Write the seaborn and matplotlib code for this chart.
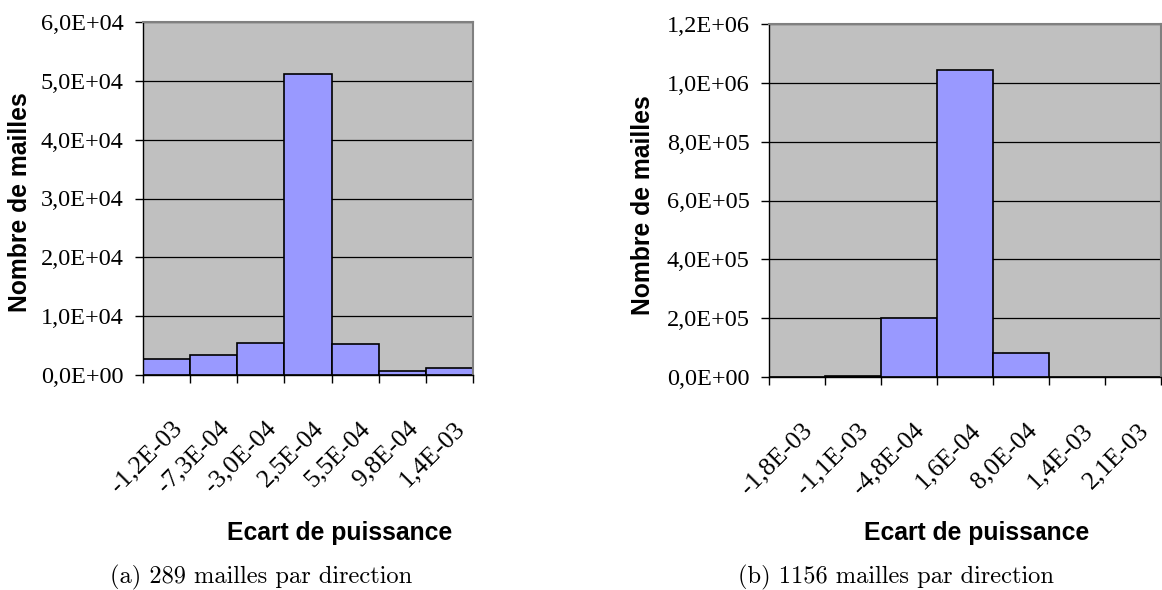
import matplotlib.pyplot as plt
import matplotlib.transforms as mtransforms
from matplotlib.ticker import FuncFormatter, MultipleLocator
import seaborn as sns

# (a) 289 mailles par direction
labels_a = ["-1,2E-03", "-7,3E-04", "-3,0E-04", "2,5E-04", "5,5E-04", "9,8E-04", "1,4E-03"]
counts_a = [2750, 3430, 5500, 51200, 5220, 670, 1240]

# (b) 1156 mailles par direction
labels_b = ["-1,8E-03", "-1,1E-03", "-4,8E-04", "1,6E-04", "8,0E-04", "1,4E-03", "2,1E-03"]
counts_b = [0, 4000, 200000, 1045000, 80000, 0, 0]

W, H = 1162, 590
fig = plt.figure(figsize=(W / 100, H / 100), dpi=100)


def excel_fmt(v, pos):
    return f"{v:.1E}".replace(".", ",")


def px_axes(x0, y0, x1, y1):
    return fig.add_axes([x0 / W, 1 - y1 / H, (x1 - x0) / W, (y1 - y0) / H])


def draw(ax, labels, counts, ymax, ystep):
    sns.barplot(x=labels, y=counts, order=labels, color="#9999FF", saturation=1,
                width=1.0, edgecolor="black", linewidth=1.2, ax=ax)
    ax.set_facecolor("#C0C0C0")
    ax.set_xlim(-0.5, len(labels) - 0.5)
    ax.set_ylim(0, ymax)
    ax.yaxis.set_major_locator(MultipleLocator(ystep))
    ax.yaxis.set_major_formatter(FuncFormatter(excel_fmt))
    ax.yaxis.grid(True, color="black", linewidth=0.9)
    ax.set_axisbelow(True)
    ax.set_xlabel("")
    ax.set_ylabel("")
    for s in ["top", "right"]:
        ax.spines[s].set_color("#808080")
        ax.spines[s].set_linewidth(1.5)
    for s in ["left", "bottom"]:
        ax.spines[s].set_color("black")
        ax.spines[s].set_linewidth(1.0)
    ax.tick_params(axis="y", direction="out", length=6, width=1, pad=8,
                   labelsize=17.5)
    ax.set_xticks(range(len(labels)))
    ax.set_xticklabels(labels, rotation=45, ha="right", va="center",
                       rotation_mode="anchor", fontsize=18.5)
    ax.tick_params(axis="x", which="major", length=0, pad=36)
    ax.set_xticks([i - 0.5 for i in range(len(labels) + 1)], minor=True)
    ax.tick_params(axis="x", which="minor", direction="out", length=6, width=1)
    off = mtransforms.ScaledTranslation(0.12, 0, fig.dpi_scale_trans)
    for t in ax.get_xticklabels() + ax.get_yticklabels():
        t.set_fontfamily("Liberation Serif")
    for t in ax.get_xticklabels():
        t.set_transform(t.get_transform() + off)


ax1 = px_axes(143, 22, 473, 375)
draw(ax1, labels_a, counts_a, 60000, 10000)
ax2 = px_axes(769, 24, 1161, 377)
draw(ax2, labels_b, counts_b, 1200000, 200000)

bold = dict(fontfamily="Liberation Sans", fontweight="bold", fontsize=17.8)
fig.text(340 / W, 1 - 533 / H, "Ecart de puissance", ha="center", va="center", **bold)
fig.text(977 / W, 1 - 533 / H, "Ecart de puissance", ha="center", va="center", **bold)
fig.text(20 / W, 1 - 202 / H, "Nombre de mailles", rotation=90, ha="center", va="center", **bold)
fig.text(643 / W, 1 - 205 / H, "Nombre de mailles", rotation=90, ha="center", va="center", **bold)

cap = dict(fontfamily="cmr10", fontsize=17.6, ha="left", va="center")
fig.text(110 / W, 1 - 577 / H, "(a) 289 mailles par direction", **cap)
fig.text(738 / W, 1 - 577 / H, "(b) 1156 mailles par direction", **cap)

fig.savefig("out.png", dpi=100)
